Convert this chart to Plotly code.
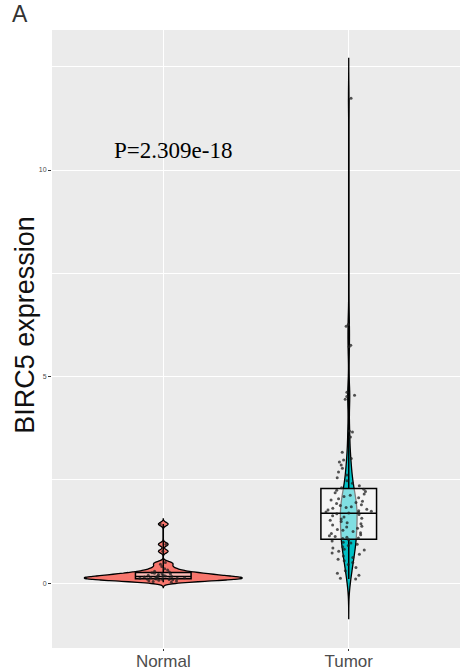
import plotly.graph_objects as go

groups = ["Normal", "Tumor"]

normal_vals = [1.43, 0.94, 0.77, 0.50, 0.46, 0.40, 0.35, 0.32, 0.29, 0.27,
               0.25, 0.24, 0.23, 0.22, 0.21, 0.20, 0.19, 0.18, 0.17, 0.16,
               0.16, 0.15, 0.15, 0.14, 0.13, 0.13, 0.12, 0.12, 0.11, 0.11,
               0.10, 0.10, 0.09, 0.09, 0.08, 0.07, 0.06, 0.05, 0.04, 0.02]

tumor_vals = [11.74, 6.26, 6.22, 5.76, 5.72, 4.62, 4.55, 4.52, 4.45, 3.68,
              3.66, 3.54, 3.17, 3.02, 2.98, 2.93, 2.86, 2.78, 2.69, 2.62,
              2.55, 2.48, 2.42, 2.36, 2.31, 2.27, 2.25, 2.22, 2.19, 2.16,
              2.13, 2.10, 2.07, 2.04, 2.01, 1.98, 1.95, 1.93, 1.90, 1.88,
              1.85, 1.83, 1.81, 1.79, 1.77, 1.75, 1.74, 1.72, 1.71, 1.70,
              1.68, 1.66, 1.63, 1.60, 1.57, 1.55, 1.52, 1.49, 1.46, 1.44,
              1.41, 1.38, 1.36, 1.33, 1.30, 1.28, 1.25, 1.22, 1.20, 1.17,
              1.15, 1.13, 1.11, 1.09, 1.08, 1.05, 1.02, 0.99, 0.97, 0.94,
              0.91, 0.88, 0.85, 0.82, 0.80, 0.77, 0.73, 0.70, 0.66, 0.62,
              0.58, 0.54, 0.50, 0.45, 0.38, 0.30, 0.24, 0.19, 0.12, 0.10]

p_label = "P=2.309e-18"
y_ticks = [0, 5, 10]

fill_colors = {"Normal": "#F8766D", "Tumor": "#00BFC4"}
violin_width = {"Normal": 0.85, "Tumor": 0.09}
bandwidths = {"Normal": 0.042, "Tumor": 0.32}
data = {"Normal": normal_vals, "Tumor": tumor_vals}

fig = go.Figure()

for g in groups:
    vals = data[g]
    bw = bandwidths[g]
    fig.add_trace(go.Violin(
        x=[g] * len(vals), y=vals, name=g,
        fillcolor=fill_colors[g], opacity=1,
        line=dict(color="black", width=1.3),
        points=False, box_visible=False, meanline_visible=False,
        bandwidth=bw, spanmode="manual",
        span=[min(vals) - 3 * bw, max(vals) + 3 * bw],
        scalemode="width", width=violin_width[g],
        showlegend=False, hoverinfo="skip",
    ))

for g in groups:
    vals = data[g]
    fig.add_trace(go.Box(
        x=[g] * len(vals), y=vals, name=g,
        fillcolor="rgba(255,255,255,0.5)",
        line=dict(color="black", width=1.5),
        boxpoints=False, width=0.3, whiskerwidth=0,
        showlegend=False, hoverinfo="skip",
    ))

for g in groups:
    vals = data[g]
    fig.add_trace(go.Box(
        x=[g] * len(vals), y=vals, name=g,
        fillcolor="rgba(0,0,0,0)",
        line=dict(color="rgba(0,0,0,0)", width=0),
        boxpoints="all", jitter=1.0, pointpos=0, width=0.26,
        marker=dict(size=3, color="rgba(30,30,30,0.75)"),
        showlegend=False, hoverinfo="skip",
    ))

fig.update_layout(
    width=460, height=671,
    margin=dict(l=52, r=0, t=30, b=23),
    paper_bgcolor="white", plot_bgcolor="#EBEBEB",
    boxmode="overlay", violinmode="overlay",
    font=dict(family="Liberation Sans, Arial, sans-serif"),
    showlegend=False,
)

fig.update_xaxes(
    type="category", categoryorder="array", categoryarray=groups,
    range=[-0.6, 1.6], showgrid=True, gridcolor="white", gridwidth=1,
    zeroline=False, showline=False, automargin=False,
    ticks="outside", ticklen=2, tickcolor="#333333", tickwidth=0.8,
    ticklabelstandoff=-4,
    tickfont=dict(size=17, color="#4D4D4D"),
)

fig.update_yaxes(
    range=[-1.57, 13.39], tickvals=y_ticks, ticktext=[str(v) for v in y_ticks],
    showgrid=True, gridcolor="white", gridwidth=1,
    minor=dict(dtick=2.5, tick0=0, showgrid=True, gridcolor="white", gridwidth=0.5),
    zeroline=False, showline=False, automargin=False,
    ticks="outside", ticklen=3, tickcolor="#333333", tickwidth=0.8,
    tickfont=dict(size=7, color="#4D4D4D"),
)

fig.add_annotation(
    text=p_label, x=0.05, y=10.48, xref="x", yref="y",
    showarrow=False, xanchor="center", yanchor="middle",
    font=dict(family="Liberation Serif, Times New Roman, serif", size=23, color="black"),
)

fig.add_annotation(
    text="BIRC5 expression", x=-0.066, y=0.523, xref="paper", yref="paper",
    textangle=-90, showarrow=False, xanchor="center", yanchor="middle",
    font=dict(size=27, color="#111111"),
)

fig.add_annotation(
    text="A", x=-0.078, y=1.0, xref="paper", yref="paper",
    showarrow=False, xanchor="center", yanchor="bottom", yshift=1,
    font=dict(size=23, color="#333333"),
)

fig.write_html("out.html")
